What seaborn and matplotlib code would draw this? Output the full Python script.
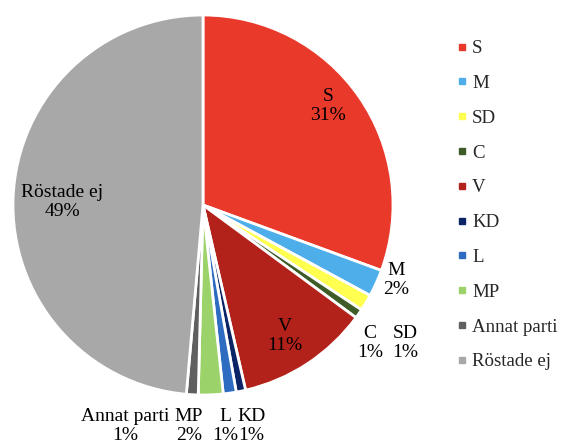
import matplotlib
matplotlib.use("Agg")
import matplotlib.pyplot as plt
import seaborn as sns
from matplotlib.lines import Line2D

# Data
partier = ['S', 'M', 'SD', 'C', 'V', 'KD', 'L', 'MP', 'Annat parti', 'Röstade ej']
andel = [30.6, 2.3, 1.4, 0.8, 11.3, 0.8, 1.1, 2.1, 1.0, 48.6]
farger = ['#E9392B', '#4EAEEA', '#FFFF50', '#3E5C27', '#B2221A',
          '#0B2466', '#2D6CC0', '#9CD26A', '#5F5F5F', '#A8A8A8']

# label positions (in pie radius units, relative to centre)
label_xy = [(0.658, 0.521), (1.016, -0.395), (1.063, -0.726), (0.879, -0.726), (0.432, -0.689),
            (0.253, -1.163), (0.116, -1.163), (-0.074, -1.163), (-0.41, -1.163), (-0.742, 0.016)]

sns.set_theme(style='white')
plt.rcParams['font.family'] = ['Liberation Serif', 'DejaVu Serif']

fig = plt.figure(figsize=(5.62, 4.43), dpi=100)
ax = fig.add_axes([0, 0, 1, 1])

R = 190.0  # pixels per radius
cx, cy = 203.0, 443 - 205.0

wedges, _ = ax.pie(andel, colors=farger, startangle=90, counterclock=False,
                   wedgeprops=dict(edgecolor='white', linewidth=2))

total = sum(andel)
for namn, v, (x, y) in zip(partier, andel, label_xy):
    ax.text(x, y, f"{namn}\n{round(v / total * 100):.0f}%", ha='center', va='center',
            fontsize=14, color='black', linespacing=1.15)

ax.set_aspect('auto')
ax.set_xlim(-cx / R, (562 - cx) / R)
ax.set_ylim(-cy / R, (443 - cy) / R)
ax.axis('off')

handles = [Line2D([0], [0], marker='s', linestyle='none', markersize=5,
                  markerfacecolor=c, markeredgecolor=c) for c in farger]
fig.legend(handles, partier, loc='upper left', bbox_to_anchor=(456 / 562, 1 - 40 / 443),
           frameon=False, fontsize=13.6, handlelength=0.6, handletextpad=0.25,
           labelspacing=0.93, borderaxespad=0, borderpad=0)

fig.savefig('out.png', dpi=100)
